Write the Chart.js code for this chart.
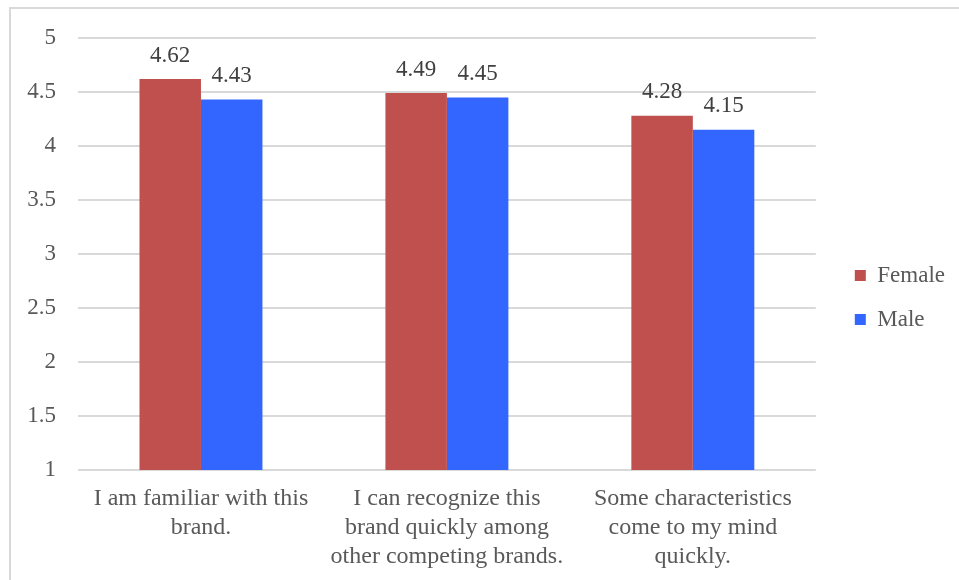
<!DOCTYPE html>
<html>
<head>
<meta charset="utf-8">
<script src="https://cdn.jsdelivr.net/npm/chart.js@4.4.1/dist/chart.umd.min.js"></script>
<style>
  html, body { margin: 0; padding: 0; background: #fff; overflow: hidden; }
  #wrap { position: relative; width: 959px; height: 580px; }
  #frame { position: absolute; left: 9px; top: 7px; width: 980px; height: 600px; border: 2px solid #d9d9d9; }
  #chartBox { position: absolute; left: 0; top: 0; width: 959px; height: 580px; }
</style>
</head>
<body>
<div id="wrap">
  <div id="frame"></div>
  <div id="chartBox"><canvas id="brandChart"></canvas></div>
</div>
<script>
// Brand awareness items by gender
const categories = [
  ['I am familiar with this', 'brand.'],
  ['I can recognize this', 'brand quickly among', 'other competing brands.'],
  ['Some characteristics', 'come to my mind', 'quickly.']
];
const female = [4.62, 4.49, 4.28];
const male = [4.43, 4.45, 4.15];
const yTicks = [1, 1.5, 2, 2.5, 3, 3.5, 4, 4.5, 5];

const FONT = 'Liberation Serif, "Times New Roman", serif';
const SIZE = 23;

// value labels above each bar
const valueLabels = {
  id: 'valueLabels',
  afterDatasetsDraw(chart) {
    const ctx = chart.ctx;
    ctx.save();
    ctx.font = SIZE + 'px ' + FONT;
    ctx.fillStyle = '#404040';
    ctx.textAlign = 'center';
    ctx.textBaseline = 'bottom';
    chart.data.datasets.forEach((ds, i) => {
      chart.getDatasetMeta(i).data.forEach((bar, j) => {
        ctx.fillText(ds.data[j].toFixed(2), bar.x, bar.y - 12);
      });
    });
    ctx.restore();
  }
};

// push the legend a bit away from the plot
const legendNudge = {
  id: 'legendNudge',
  afterLayout(chart) {
    const lg = chart.legend;
    lg.left += 18; lg.right += 18;
    lg.top -= 7; lg.bottom -= 7;
  }
};

new Chart(document.getElementById('brandChart'), {
  type: 'bar',
  data: {
    labels: categories,
    datasets: [
      { label: 'Female', data: female, backgroundColor: '#c0504d', categoryPercentage: 0.5, barPercentage: 1 },
      { label: 'Male', data: male, backgroundColor: '#3366ff', categoryPercentage: 0.5, barPercentage: 1 }
    ]
  },
  options: {
    responsive: true,
    maintainAspectRatio: false,
    animation: false,
    layout: { padding: { left: 20, top: 38, right: 22, bottom: 9 } },
    plugins: {
      tooltip: { enabled: false },
      legend: {
        position: 'right',
        labels: {
          font: { family: FONT, size: SIZE },
          color: '#595959',
          boxWidth: 11,
          boxHeight: 11,
          padding: 21
        }
      }
    },
    scales: {
      x: {
        grid: { display: false },
        border: { display: false },
        afterFit(scale) { scale.height = 101; },
        ticks: {
          font: { family: FONT, size: 24, lineHeight: 1.21 },
          color: '#595959',
          padding: 6,
          maxRotation: 0
        }
      },
      y: {
        min: yTicks[0],
        max: yTicks[yTicks.length - 1],
        afterBuildTicks(scale) {
          scale.ticks = yTicks.map(v => ({ value: v }));
        },
        afterFit(scale) { scale.width = 58; },
        grid: { color: '#d9d9d9', lineWidth: 2, drawTicks: false },
        border: { display: false },
        ticks: {
          font: { family: FONT, size: SIZE },
          color: '#595959',
          padding: 22,
          callback: v => String(v)
        }
      }
    }
  },
  plugins: [valueLabels, legendNudge]
});
</script>
</body>
</html>
